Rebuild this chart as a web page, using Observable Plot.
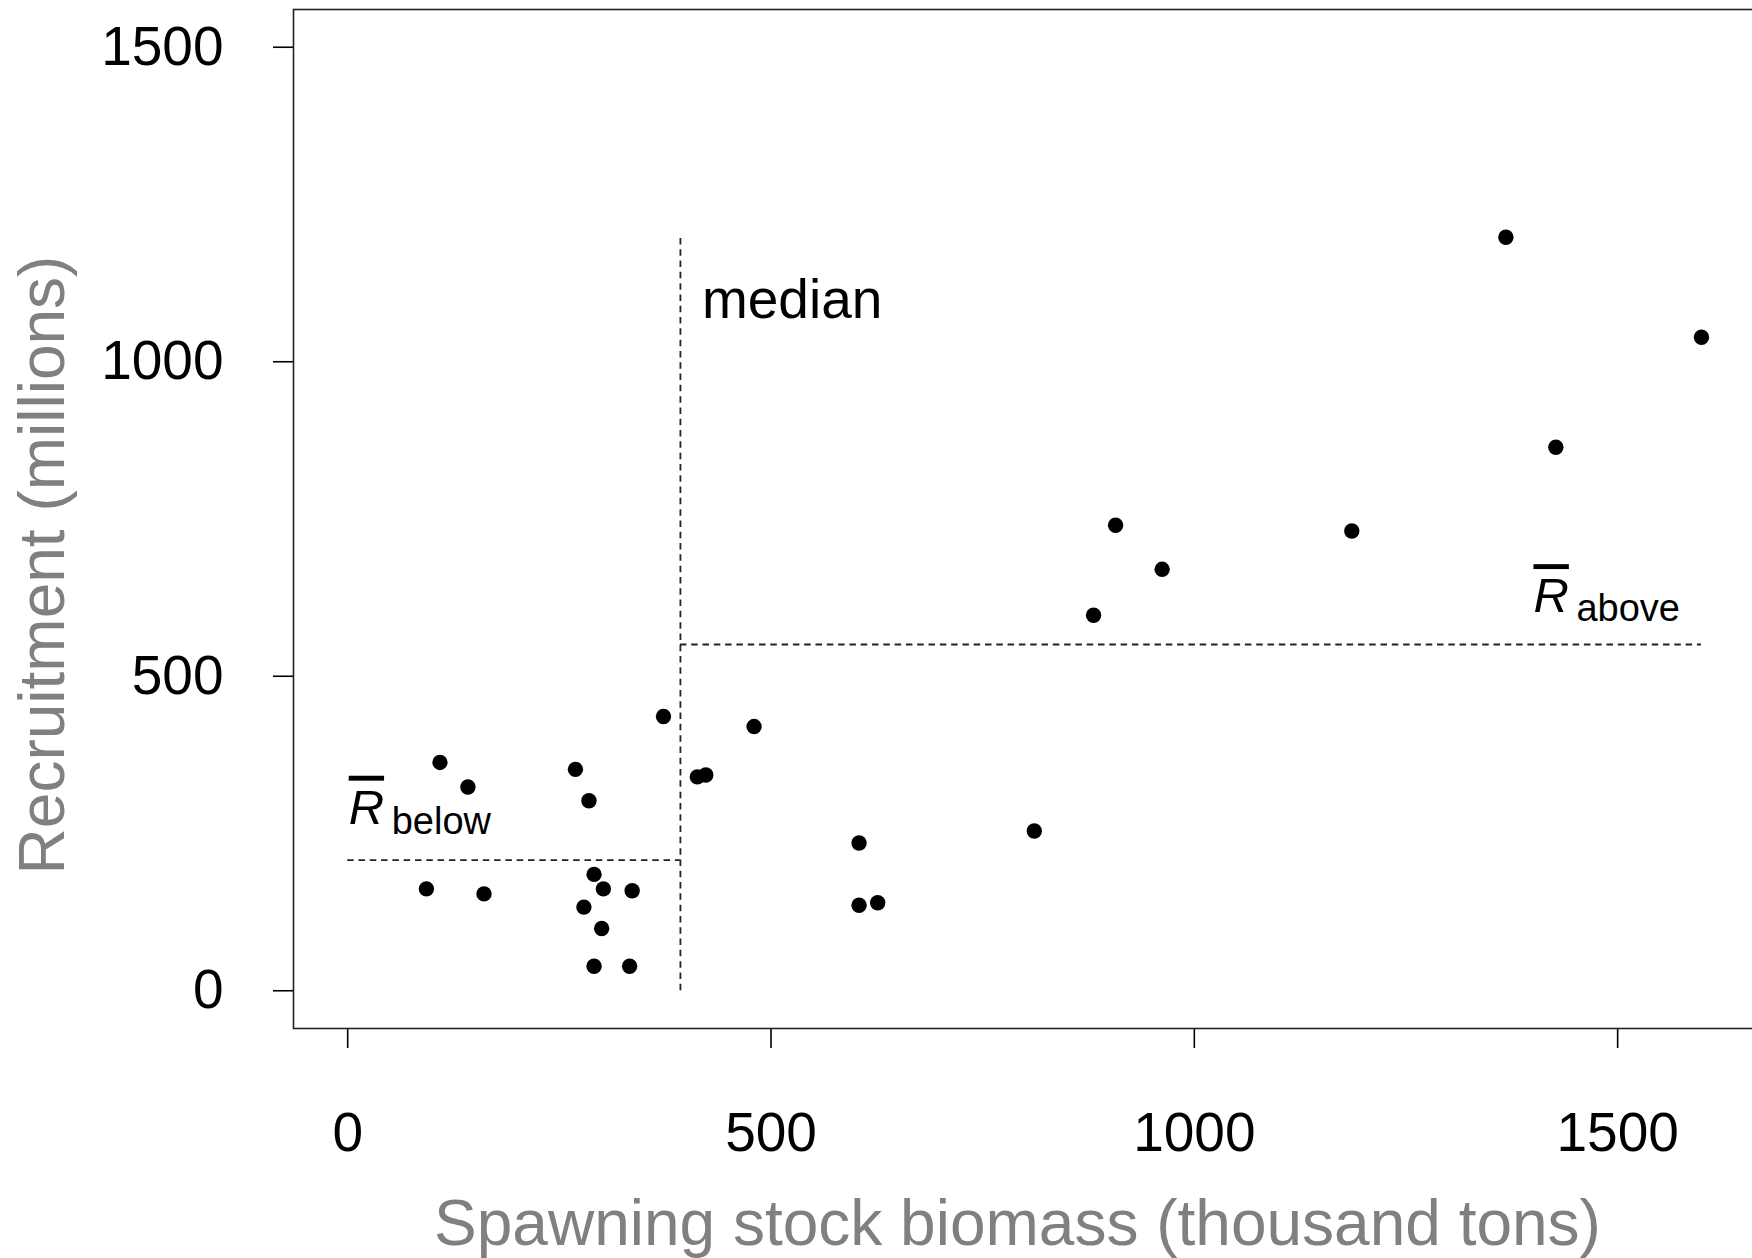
<!DOCTYPE html>
<html>
<head>
<meta charset="utf-8">
<script src="https://cdn.jsdelivr.net/npm/d3@7"></script>
<script src="https://cdn.jsdelivr.net/npm/@observablehq/plot@0.6"></script>
<style>
  html, body { margin: 0; padding: 0; background: #fff; overflow: hidden; }
  #chart svg { max-width: none !important; display: block; }
</style>
</head>
<body>
<div id="chart"></div>
<script>
// Spawning stock biomass (thousand tons)
const ssb = [109, 142, 269, 285, 93, 161, 291, 302, 336, 279, 300, 291, 333, 373,
             413, 423, 480, 604, 604, 626, 811, 881, 907, 962, 1186, 1368, 1427, 1599];
// Recruitment (millions)
const recruitment = [363, 324, 352, 302, 162, 154, 185, 162, 159, 133, 99, 39, 39, 436,
                     340, 343, 420, 235, 136, 140, 254, 597, 740, 670, 731, 1198, 864, 1039];

const xTicks = [0, 500, 1000, 1500];
const yTicks = [0, 500, 1000, 1500];
const xTitle = "Spawning stock biomass (thousand tons)";
const yTitle = "Recruitment (millions)";
const medianLabel = "median";
const rSymbol = "R";
const subBelow = "below";
const subAbove = "above";
const belowStart = 0;

const data = ssb.map((s, i) => ({ s, r: recruitment[i] }));
const med = d3.median(ssb);
const meanBelow = d3.mean(data.filter(d => d.s < med), d => d.r);
const meanAbove = d3.mean(data.filter(d => d.s > med), d => d.r);
const maxR = d3.max(recruitment);
const maxS = d3.max(ssb);

const dash = { stroke: "#222", strokeWidth: 1.8, strokeDasharray: "6.5,4.8" };
const FONT = "'Liberation Sans', Arial, Helvetica, sans-serif";

const plot = Plot.plot({
  width: 1756,
  height: 1258,
  marginLeft: 293,
  marginRight: 0,
  marginTop: 9,
  marginBottom: 230,
  style: { fontFamily: FONT, fontSize: "55px", color: "#000", background: "#fff", maxWidth: "none" },
  x: { domain: [-64, 1664], ticks: xTicks, tickSize: 20, tickPadding: 63, tickFormat: d => String(d), label: null },
  y: { domain: [-60, 1560], ticks: yTicks, tickSize: 20, tickPadding: 50, tickFormat: d => String(d), label: null },
  marks: [
    Plot.frame({ stroke: "#222", strokeWidth: 1.6 }),
    // median SSB vertical line
    Plot.ruleX([med], { x: d => d, y1: 0, y2: maxR, ...dash }),
    // mean recruitment below median
    Plot.ruleY([meanBelow], { y: d => d, x1: belowStart, x2: med, ...dash }),
    // mean recruitment above median
    Plot.ruleY([meanAbove], { y: d => d, x1: med, x2: maxS, ...dash }),
    Plot.dot(data, { x: "s", y: "r", r: 7.7, fill: "#000", stroke: "none" }),
    // labels
    Plot.text([{ x: med, y: maxR }], { x: "x", y: "y", text: () => medianLabel, textAnchor: "start", lineAnchor: "middle", dx: 21.5, dy: 62.7, fontSize: 55, fill: "#000" }),
    Plot.text([{ x: belowStart, y: meanBelow }], { x: "x", y: "y", text: () => rSymbol, fontStyle: "italic", fontSize: 49, textAnchor: "start", lineAnchor: "middle", dx: 1, dy: -52, fill: "#000" }),
    Plot.text([{ x: belowStart, y: meanBelow }], { x: "x", y: "y", text: () => subBelow, fontSize: 38, textAnchor: "start", lineAnchor: "middle", dx: 44, dy: -38.5, fill: "#000" }),
    Plot.text([{ x: maxS, y: meanAbove }], { x: "x", y: "y", text: () => rSymbol, fontStyle: "italic", fontSize: 49, textAnchor: "start", lineAnchor: "middle", dx: -168, dy: -48, fill: "#000" }),
    Plot.text([{ x: maxS, y: meanAbove }], { x: "x", y: "y", text: () => subAbove, fontSize: 38, textAnchor: "start", lineAnchor: "middle", dx: -125, dy: -35.5, fill: "#000" }),
    // axis titles
    Plot.text([yTitle], { text: d => d, frameAnchor: "left", rotate: -90, textAnchor: "middle", lineAnchor: "middle", dx: -249.5, dy: 46, fontSize: 64, fill: "#808080" }),
    Plot.text([xTitle], { text: d => d, frameAnchor: "bottom", textAnchor: "middle", lineAnchor: "middle", dx: -7.5, dy: 196.5, fontSize: 64, fill: "#808080" })
  ]
});

// overbar on R
plot.querySelectorAll("text").forEach(t => {
  if (t.textContent === rSymbol) t.style.textDecoration = "overline";
});
// tick stroke width
plot.querySelectorAll('g[aria-label$="tick"] path, g[aria-label$="axis"] line, g.tick line').forEach(p => {
  p.setAttribute("stroke-width", "1.6");
});

document.getElementById("chart").appendChild(plot);
</script>
</body>
</html>
